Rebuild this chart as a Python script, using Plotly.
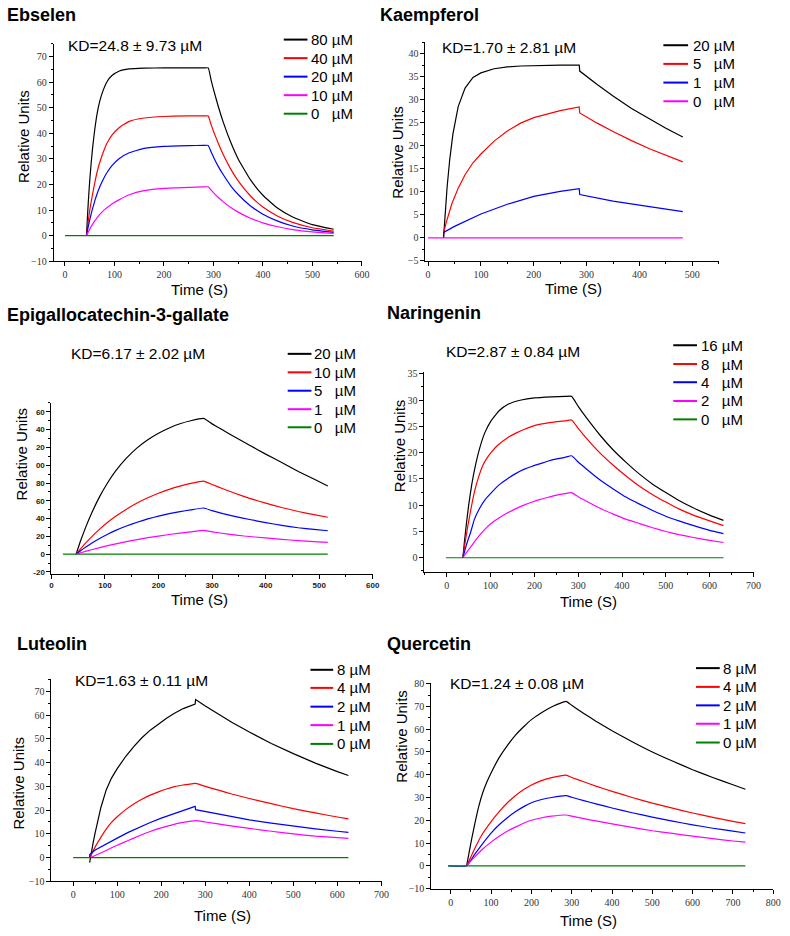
import plotly.graph_objects as go

W, H = 790, 936
SANS = "Liberation Sans, Arial, sans-serif"
SERIF = "Liberation Serif, Times New Roman, serif"
NB = "\u00a0"

# ---------------- Data ----------------
# Ebselen
eb_labels = ["80 µM", "40 µM", "20 µM", "10 µM", "0" + NB * 3 + "µM"]
eb_t80 = [43.5, 46, 48, 50, 53, 56, 60, 65, 70, 77, 85, 95, 110, 130, 160, 200, 250, 280, 289.5,
          295, 300, 310, 320, 335, 350, 375, 400, 430, 460, 500, 543]
eb_y80 = [0, 9.1, 15.6, 21.3, 28.4, 34.5, 41.1, 47.7, 52.3, 56.7, 60.2, 62.6, 64.4, 65.2, 65.5, 65.6, 65.6, 65.6, 65.6,
          61.1, 57.3, 50.4, 44.3, 36.5, 30.0, 21.8, 15.8, 10.7, 7.3, 4.3, 2.5]
eb_t40 = [43.5, 46, 48, 50, 53, 56, 60, 65, 70, 77, 85, 95, 110, 130, 160, 200, 250, 280, 289.5,
          295, 300, 310, 320, 335, 350, 375, 400, 430, 460, 500, 543]
eb_y40 = [0, 4.0, 7.0, 9.8, 13.2, 16.4, 20.4, 24.9, 28.4, 32.4, 36.1, 39.3, 42.3, 44.7, 46.0, 46.6, 46.8, 46.8, 46.8,
          43.6, 40.9, 36.0, 31.6, 26.0, 21.4, 15.5, 11.2, 7.6, 5.2, 3.1, 1.8]
eb_t20 = [43.5, 46, 48, 50, 53, 56, 60, 65, 70, 77, 85, 95, 110, 130, 160, 200, 250, 280, 289.5,
          295, 300, 310, 320, 335, 350, 375, 400, 430, 460, 500, 543]
eb_y20 = [0, 2.5, 4.3, 6.1, 8.5, 10.7, 13.4, 16.4, 18.9, 21.9, 24.7, 27.4, 30.2, 32.4, 34.1, 34.9, 35.2, 35.3, 35.3,
          32.9, 30.8, 27.0, 23.8, 19.5, 16.1, 11.6, 8.4, 5.7, 3.8, 2.3, 1.3]
eb_t10 = [43.5, 46, 50, 55, 60, 70, 80, 95, 110, 130, 160, 200, 250, 280, 289.5,
          295, 300, 310, 320, 335, 350, 375, 400, 430, 460, 500, 543]
eb_y10 = [0, 1.0, 2.5, 4.2, 5.7, 8.2, 10.2, 12.4, 14.1, 16.0, 17.6, 18.5, 18.9, 19.05, 19.1,
          17.9, 16.8, 14.9, 13.2, 11.0, 9.2, 6.8, 5.0, 3.5, 2.4, 1.5, 0.9]
eb_t0 = [0, 543]
eb_y0 = [0, 0]

# Kaempferol
ka_labels = ["20 µM", "5" + NB * 3 + "µM", "1" + NB * 3 + "µM", "0" + NB * 3 + "µM"]
ka_t20 = [29.3, 32, 36, 41, 47, 57, 70, 85, 100, 125, 150, 175, 200, 250, 286, 287, 320, 350, 385, 420, 450, 482]
ka_y20 = [0, 5, 11, 17, 22.5, 28.5, 32.5, 34.8, 35.8, 36.7, 37.1, 37.3, 37.4, 37.5, 37.5, 36.2, 33.3, 30.8, 28.1, 25.7, 23.8, 21.9]
ka_t5 = [29.3, 29.4, 35, 45, 57, 70, 85, 100, 125, 150, 175, 200, 250, 286, 287, 320, 350, 385, 420, 450, 482]
ka_y5 = [0, 1.2, 3.6, 7.4, 10.8, 13.7, 16.3, 18.2, 21.0, 23.2, 24.9, 26.1, 27.6, 28.4, 27.1, 24.9, 23.1, 21.1, 19.3, 17.9, 16.5]
ka_t1 = [29.3, 29.4, 50, 75, 100, 150, 200, 250, 286, 287, 350, 400, 450, 482]
ka_y1 = [0, 1.2, 2.5, 3.9, 5.2, 7.3, 9.0, 10.1, 10.7, 9.4, 8.0, 7.1, 6.3, 5.7]
ka_t0 = [0, 482]
ka_y0 = [0, 0]

# Epigallocatechin-3-gallate
eg_labels = ["20 µM", "10 µM", "5" + NB * 3 + "µM", "1" + NB * 3 + "µM", "0" + NB * 3 + "µM"]
eg_t20 = [46, 55, 65, 75, 90, 105, 120, 140, 160, 180, 200, 220, 240, 260, 284,
          300, 320, 340, 370, 400, 430, 461, 490, 516]
eg_y20 = [0, 16.0, 31.8, 46.0, 64.7, 80.3, 93.6, 107.9, 119.5, 128.7, 136.0, 141.9, 146.6, 150.0, 152.6,
          146.5, 139.5, 132.5, 122.5, 112.5, 103, 93, 84.5, 76.7]
eg_t10 = [46, 55, 65, 75, 90, 105, 120, 140, 160, 180, 200, 220, 240, 260, 284,
          300, 320, 340, 370, 400, 430, 461, 490, 516]
eg_y10 = [0, 6.5, 13.3, 19.5, 28.1, 35.8, 42.6, 50.6, 57.5, 63.4, 68.5, 72.9, 76.5, 79.5, 82.2,
          78.3, 73.5, 69.0, 62.8, 57.4, 52.5, 48, 44.5, 41.5]
eg_t5 = [46, 55, 65, 75, 90, 105, 120, 140, 160, 180, 200, 220, 240, 260, 284,
         300, 320, 340, 370, 400, 430, 461, 490, 516]
eg_y5 = [0, 4.1, 8.3, 12.3, 17.6, 22.4, 26.7, 31.6, 35.9, 39.6, 42.8, 45.5, 47.8, 49.8, 51.9,
         48.9, 45.6, 42.8, 39, 35.5, 32.4, 29.7, 27.8, 26.3]
eg_t1 = [46, 55, 75, 105, 140, 180, 220, 260, 284, 300, 330, 360, 400, 430, 461, 490, 516]
eg_y1 = [0, 1.6, 5.0, 9.6, 14.1, 18.5, 22.1, 25.1, 26.7, 25.0, 22.6, 20.4, 18.2, 16.6, 15.2, 14.2, 13.3]
eg_t0 = [21.5, 516]
eg_y0 = [0, 0]

# Naringenin
na_labels = ["16 µM", "8" + NB * 3 + "µM", "4" + NB * 3 + "µM", "2" + NB * 3 + "µM", "0" + NB * 3 + "µM"]
na_t16 = [36.8, 40, 45, 50, 57, 64, 75, 87, 100, 120, 140, 170, 200, 240, 270, 285,
          300, 320, 350, 380, 410, 440, 470, 500, 530, 560, 600, 631.6]
na_y16 = [0, 2.8, 6.6, 10.0, 13.9, 17.0, 20.8, 23.8, 25.9, 28.0, 29.2, 30.0, 30.4, 30.6, 30.7, 30.7,
          28.8, 26.5, 23.3, 20.5, 18.1, 15.9, 14.0, 12.4, 10.9, 9.6, 8.1, 7.1]
na_t8 = [36.8, 42, 48, 55, 63, 72, 82, 92, 101, 115, 138, 160, 176, 195, 214, 235, 251, 270, 285,
         300, 320, 350, 380, 410, 440, 470, 500, 530, 560, 600, 631.6]
na_y8 = [0, 3.0, 6.0, 9.2, 12.5, 15.2, 17.5, 19.0, 20.0, 21.3, 22.8, 23.8, 24.4, 25.0, 25.4, 25.7, 25.9, 26.05, 26.2,
         24.6, 22.6, 19.9, 17.6, 15.5, 13.6, 12.0, 10.6, 9.3, 8.2, 7.0, 6.1]
na_t4 = [36.8, 45, 55, 63, 75, 88, 101, 120, 138, 157, 176, 195, 214, 232, 251, 270, 285,
         300, 320, 350, 380, 410, 440, 470, 500, 530, 560, 600, 631.6]
na_y4 = [0, 2.5, 5.0, 7.3, 9.4, 11.1, 12.3, 13.9, 15.0, 16.0, 16.8, 17.4, 17.9, 18.4, 18.8, 19.1, 19.4,
         18.2, 16.8, 14.8, 13.1, 11.5, 10.2, 9.0, 7.9, 7.0, 6.2, 5.2, 4.6]
na_t2 = [36.8, 45, 55, 63, 75, 88, 101, 120, 138, 157, 176, 195, 214, 232, 251, 270, 285,
         300, 320, 350, 380, 410, 440, 470, 500, 530, 560, 600, 631.6]
na_y2 = [0, 1.0, 2.1, 3.0, 4.3, 5.5, 6.5, 7.6, 8.5, 9.3, 10.0, 10.6, 11.1, 11.5, 11.9, 12.2, 12.4,
         11.6, 10.7, 9.4, 8.3, 7.3, 6.5, 5.7, 5.0, 4.4, 3.9, 3.3, 2.9]
na_t0 = [-2, 631.6]
na_y0 = [0, 0]

# Luteolin
lu_labels = ["8 µM", "4 µM", "2 µM", "1 µM", "0 µM"]
lu_t8 = [37.4, 40, 45, 50, 56, 62.8, 75, 87, 100, 120, 137.6, 156, 175, 195, 212, 230, 250, 277, 278,
         300, 330, 360, 400, 450, 500, 550, 600, 625]
lu_y8 = [-2.1, 1.0, 6.0, 10.5, 15.5, 21.0, 28.5, 33.5, 37.5, 42.8, 46.8, 50.5, 53.7, 56.5, 58.7, 60.8, 62.8, 64.7, 66.6,
         63.9, 60.4, 57.0, 52.9, 48.1, 43.8, 39.8, 36.2, 34.6]
lu_t4 = [38, 50, 62.8, 75, 87, 100, 120, 137.6, 156, 175, 195, 212, 230, 250, 278,
         300, 330, 360, 400, 450, 500, 550, 600, 625]
lu_y4 = [0, 4.5, 8.5, 12.0, 14.8, 17.2, 20.3, 22.6, 24.6, 26.3, 27.8, 28.9, 29.9, 30.6, 31.3,
         30.0, 28.4, 26.8, 24.9, 22.7, 20.6, 18.8, 17.1, 16.3]
lu_t2 = [37.4, 37.5, 50, 75, 100, 125, 150, 175, 200, 225, 250, 277, 278,
         300, 330, 360, 400, 450, 500, 550, 600, 625]
lu_y2 = [0, 1.3, 3.2, 5.8, 8.2, 10.6, 12.8, 14.8, 16.6, 18.3, 19.9, 21.6, 20.2,
         19.4, 18.3, 17.2, 15.9, 14.5, 13.2, 12.1, 11.1, 10.6]
lu_t1 = [40, 75, 100, 125, 150, 175, 200, 225, 250, 278, 300, 350, 400, 450, 500, 550, 600, 625]
lu_y1 = [0, 3.0, 5.2, 7.2, 9.2, 11.0, 12.5, 13.8, 14.8, 15.6, 15.0, 13.6, 12.3, 11.1, 10.0, 9.0, 8.4, 8.1]
lu_t0 = [0, 625]
lu_y0 = [0, 0]

# Quercetin
qu_labels = ["8 µM", "4 µM", "2 µM", "1 µM", "0 µM"]
qu_t8 = [39.2, 45, 52, 59.6, 70, 80, 90, 100.5, 120, 141, 160, 182, 200, 223, 245, 264, 286,
         300, 330, 360, 400, 450, 500, 550, 600, 650, 700, 731]
qu_y8 = [0, 5.5, 12, 18.5, 26.5, 32.5, 37, 41, 47.5, 53, 57.3, 61.3, 64.2, 67, 69.3, 70.9, 72.2,
         70.5, 66.9, 63.5, 59.3, 54.5, 50.0, 46.0, 42.2, 38.8, 35.6, 33.6]
qu_t4 = [39.2, 50, 60, 75, 100.5, 120, 141, 160, 182, 200, 223, 250, 286,
         300, 330, 360, 400, 450, 500, 550, 600, 650, 700, 731]
qu_y4 = [0, 4, 7.8, 13, 19.5, 23.8, 27.8, 30.8, 33.6, 35.5, 37.3, 38.7, 39.8,
         38.8, 36.9, 35.0, 32.7, 30.0, 27.5, 25.3, 23.2, 21.3, 19.5, 18.5]
qu_t2 = [-6, 39.2, 60, 80, 100.5, 120, 141, 160, 182, 200, 223, 250, 286,
         300, 330, 360, 400, 450, 500, 550, 600, 650, 700, 731]
qu_y2 = [0, 0, 5.2, 10, 14.5, 18, 21.2, 23.7, 26.1, 27.7, 29.0, 30.0, 30.8,
         30.1, 28.6, 27.2, 25.4, 23.3, 21.4, 19.6, 18.0, 16.5, 15.2, 14.4]
qu_t1 = [39.2, 60, 80, 100.5, 120, 141, 160, 182, 200, 223, 250, 286,
         300, 330, 360, 400, 450, 500, 550, 600, 650, 700, 731]
qu_y1 = [0, 4.0, 7.5, 10.5, 13.0, 15.3, 17.0, 18.8, 20.0, 21.0, 21.8, 22.3,
         21.8, 20.7, 19.7, 18.4, 16.9, 15.4, 14.2, 13.0, 11.9, 10.9, 10.4]
qu_t0 = [-7, 731]
qu_y0 = [0, 0]

COL5 = ["#000000", "#ff0000", "#0000ff", "#ff00ff", "#008000"]
COL4 = ["#000000", "#ff0000", "#0000ff", "#ff00ff"]

# ---------------- Panel layout (pixel positions) ----------------
panels = [
    dict(title="Ebselen", kd="KD=24.8 ± 9.73 µM", labels=eb_labels, colors=COL5,
         series=[(eb_t80, eb_y80), (eb_t40, eb_y40), (eb_t20, eb_y20), (eb_t10, eb_y10), (eb_t0, eb_y0)],
         xd=(52.3, 364.3), yd=(39.3, 259.3), xr=[-22.7, 600.5], yr=[-10, 75],
         xdt=100, xmin=50, ydt=10, ymin=5, serif=True,
         tpos=(3, 10.5), kpos=(65, 41), leg=(285, 309, 311, [35, 53.75, 72.5, 91.25, 110]),
         xt=(200, 288), yt=(21.7, 133)),
    dict(title="Kaempferol", kd="KD=1.70 ± 2.81 µM", labels=ka_labels, colors=COL4,
         series=[(ka_t20, ka_y20), (ka_t5, ka_y5), (ka_t1, ka_y1), (ka_t0, ka_y0)],
         xd=(428.3, 725), yd=(37, 259), xr=[-5, 550], yr=[-5, 42.6],
         xdt=100, xmin=50, ydt=5, ymin=2.5, serif=True,
         tpos=(380, 10), kpos=(443.5, 43), leg=(669, 694, 697, [40.7, 59.6, 78.5, 97.4]),
         xt=(578, 287), yt=(400, 149)),
    dict(title="Epigallocatechin-3-gallate", kd="KD=6.17 ± 2.02 µM", labels=eg_labels, colors=COL5,
         series=[(eg_t20, eg_y20), (eg_t10, eg_y10), (eg_t5, eg_y5), (eg_t1, eg_y1), (eg_t0, eg_y0)],
         xd=(50, 375.3), yd=(402.7, 575.3), xr=[0, 600.5], yr=[-21.8, 170],
         xdt=100, xmin=50, ydt=20, ymin=10, serif=False,
         ytv=[-20, 0, 20, 40, 60, 80, 100, 120, 140, 160],
         ytt=["-20", "0", "20", "40", "60", "80", "00", "20", "40", "60"],
         tpos=(3, 313.5), kpos=(67.5, 353), leg=(289, 313, 314, [353, 371.7, 390.3, 409, 427.3]),
         xt=(200, 602), yt=(20, 454)),
    dict(title="Naringenin", kd="KD=2.87 ± 0.84 µM", labels=na_labels, colors=COL5,
         series=[(na_t16, na_y16), (na_t8, na_y8), (na_t4, na_y4), (na_t2, na_y2), (na_t0, na_y0)],
         xd=(427.3, 760.3), yd=(371, 574), xr=[-51, 700.5], yr=[-2.76, 35.4],
         xdt=100, xmin=50, ydt=5, ymin=2.5, serif=True,
         tpos=(387, 312), kpos=(447.5, 350.5), leg=(679, 703, 705, [344.3, 363.3, 381.7, 400.7, 419.3]),
         xt=(593, 604), yt=(402, 446)),
    dict(title="Luteolin", kd="KD=1.63 ± 0.11 µM", labels=lu_labels, colors=COL5,
         series=[(lu_t8, lu_y8), (lu_t4, lu_y4), (lu_t2, lu_y2), (lu_t1, lu_y1), (lu_t0, lu_y0)],
         xd=(50, 384), yd=(681.7, 886.7), xr=[-49.4, 700.5], yr=[-10, 75.4],
         xdt=100, xmin=50, ydt=10, ymin=5, serif=True,
         tpos=(12.7, 647), kpos=(72, 683.5), leg=(312, 335, 337, [672.7, 691, 710, 728.7, 747.7]),
         xt=(223, 921), yt=(17, 787)),
    dict(title="Quercetin", kd="KD=1.24 ± 0.08 µM", labels=qu_labels, colors=COL5,
         series=[(qu_t8, qu_y8), (qu_t4, qu_y4), (qu_t2, qu_y2), (qu_t1, qu_y1), (qu_t0, qu_y0)],
         xd=(434.3, 780.3), yd=(686, 895), xr=[-48.3, 800.5], yr=[-10.4, 80.3],
         xdt=100, xmin=50, ydt=10, ymin=5, serif=True,
         tpos=(387, 647), kpos=(451, 687), leg=(702, 726, 727, [671, 690, 708.7, 727.3, 746.3]),
         xt=(593, 926), yt=(404, 740)),
]


def px(x):
    return x / W


def py(y):
    return 1 - y / H


fig = go.Figure()
layout = dict(width=W, height=H, margin=dict(l=0, r=0, t=0, b=0),
              paper_bgcolor="white", plot_bgcolor="white", showlegend=False)
annotations = []
shapes = []


def ann(text, x, y, size, bold=False, xanchor="left", angle=0, family=SANS):
    return dict(text=text, x=px(x), y=py(y), xref="paper", yref="paper",
                xanchor=xanchor, yanchor="middle", showarrow=False, textangle=angle,
                font=dict(family=family, size=size, color="black",
                          weight="bold" if bold else "normal"))


def has_jump(t):
    return any(b - a < 2 for a, b in zip(t[:-1], t[1:]))


for i, p in enumerate(panels):
    n = "" if i == 0 else str(i + 1)
    xa, ya = "x" + n, "y" + n
    if p["serif"]:
        tf = dict(family=SERIF, size=10, color="#333333")
    else:
        tf = dict(family=SANS, size=8, color="#222222", weight="bold")
    xaxis = dict(domain=[px(p["xd"][0]), px(p["xd"][1])], range=p["xr"], anchor=ya,
                 showline=True, linecolor="black", linewidth=1, showgrid=False, zeroline=False,
                 ticks="outside", ticklen=4, tickwidth=1, tickcolor="black",
                 tickmode="linear", tick0=0, dtick=p["xdt"], tickfont=tf,
                 minor=dict(ticks="outside", ticklen=2, tickwidth=1, tickcolor="black",
                            dtick=p["xmin"], tick0=0, showgrid=False))
    yaxis = dict(domain=[py(p["yd"][1]), py(p["yd"][0])], range=p["yr"], anchor=xa,
                 showline=True, linecolor="black", linewidth=1, showgrid=False, zeroline=False,
                 ticks="outside", ticklen=4, tickwidth=1, tickcolor="black", tickfont=tf,
                 minor=dict(ticks="outside", ticklen=2, tickwidth=1, tickcolor="black",
                            dtick=p["ymin"], tick0=0, showgrid=False))
    if "ytv" in p:
        yaxis.update(tickmode="array", tickvals=p["ytv"], ticktext=p["ytt"])
    else:
        yaxis.update(tickmode="linear", tick0=0, dtick=p["ydt"])
    layout["xaxis" + n] = xaxis
    layout["yaxis" + n] = yaxis

    for (t, y), c in zip(p["series"], p["colors"]):
        if has_jump(t):
            line = dict(color=c, width=1.2, shape="linear")
        else:
            line = dict(color=c, width=1.2, shape="spline", smoothing=0.4)
        fig.add_trace(go.Scatter(x=t, y=y, mode="lines", xaxis=xa, yaxis=ya,
                                 line=line, hoverinfo="skip", showlegend=False))

    annotations.append(ann(p["title"], p["tpos"][0], p["tpos"][1], 18, bold=True))
    annotations.append(ann(p["kd"], p["kpos"][0], p["kpos"][1], 15.5))
    annotations.append(ann("Time (S)", p["xt"][0], p["xt"][1], 15, xanchor="center"))
    annotations.append(ann("Relative Units", p["yt"][0], p["yt"][1], 15, xanchor="center", angle=-90))
    lx0, lx1, tx, rows = p["leg"]
    for lab, c, ry in zip(p["labels"], p["colors"], rows):
        shapes.append(dict(type="line", xref="paper", yref="paper",
                           x0=px(lx0), x1=px(lx1), y0=py(ry), y1=py(ry),
                           line=dict(color=c, width=2)))
        annotations.append(ann(lab, tx, ry, 15))

layout["annotations"] = annotations
layout["shapes"] = shapes
fig.update_layout(**layout)
fig.write_html("out.html", config={"displayModeBar": False},
               post_script="document.body.style.margin='0px';document.body.style.overflow='hidden';")
